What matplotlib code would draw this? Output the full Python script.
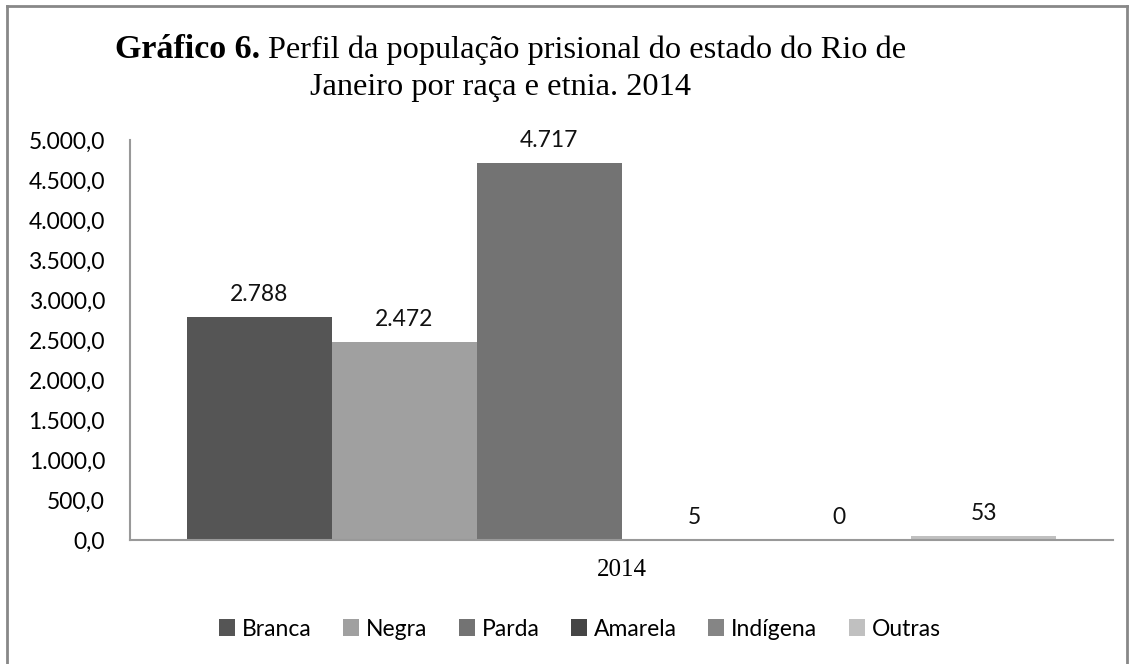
import matplotlib
matplotlib.use('Agg')
import matplotlib.pyplot as plt
from matplotlib.lines import Line2D
from matplotlib.ticker import FuncFormatter

categories = ['Branca', 'Negra', 'Parda', 'Amarela', 'Indígena', 'Outras']
values = [2788, 2472, 4717, 5, 0, 53]
colors = ['#555555', '#a0a0a0', '#737373', '#454545', '#858585', '#c0c0c0']
year_label = '2014'
y_ticks = [0, 500, 1000, 1500, 2000, 2500, 3000, 3500, 4000, 4500, 5000]

sans = 'Lato'
serif = 'Liberation Serif'
W, H = 1134, 664


def br_num(v, decimals=0):
    s = f'{v:,.{decimals}f}'
    return s.replace(',', 'X').replace('.', ',').replace('X', '.')


fig = plt.figure(figsize=(W / 100, H / 100), dpi=100)
ax = fig.add_axes([130 / W, 1 - 540 / H, (1113 - 130) / W, (540 - 140) / H])

w = 0.1475
for i, (cat, v, c) in enumerate(zip(categories, values, colors)):
    x = (i - 2.5) * w
    ax.bar(x, v, width=w, color=c, label=cat, zorder=2)
    ax.annotate(br_num(v), (x, v), xytext=(0, 11.5), textcoords='offset points',
                ha='center', va='baseline', fontsize=16.5, family=sans, color='#111111')

ax.set_xlim(-0.5, 0.5)
ax.set_ylim(0, 5000)
ax.set_yticks(y_ticks)
ax.yaxis.set_major_formatter(FuncFormatter(lambda v, p: br_num(v, 1)))
ax.set_xticks([0])
ax.set_xticklabels([year_label], family=serif, fontsize=18)
ax.tick_params(axis='x', length=0, pad=14)
ax.tick_params(axis='y', length=0, labelsize=16.5, pad=18)
for lab in ax.get_yticklabels():
    lab.set_family(sans)
for s in ['top', 'right']:
    ax.spines[s].set_visible(False)
for s in ['left', 'bottom']:
    ax.spines[s].set_color('#999999')
    ax.spines[s].set_linewidth(1.5)

leg = fig.legend(loc='center', bbox_to_anchor=(580 / W, 1 - 629 / H), ncol=6,
                 frameon=False, prop={'family': sans, 'size': 16.5},
                 handlelength=0.7, handleheight=0.7, handletextpad=0.3, columnspacing=1.37)

# title: bold part + regular part
t1 = fig.text(115 / W, 1 - 58 / H, 'Gráfico 6.', family=serif, weight='bold', fontsize=24.5,
              va='baseline')
fig.canvas.draw()
bb = t1.get_window_extent()
fig.text((bb.x1 + 8) / W, 1 - 58 / H, 'Perfil da população prisional do estado do Rio de',
         family=serif, fontsize=23.3, va='baseline')
fig.text(500 / W, 1 - 95 / H, 'Janeiro por raça e etnia. 2014', family=serif, fontsize=23.3,
         ha='center', va='baseline')

# outer frame
fc = '#888888'
fig.add_artist(Line2D([7 / W, 7 / W], [0, 1 - 6 / H], color=fc, lw=2, transform=fig.transFigure))
fig.add_artist(Line2D([7 / W, 1127 / W], [1 - 6 / H, 1 - 6 / H], color=fc, lw=2, transform=fig.transFigure))
fig.add_artist(Line2D([1127 / W, 1127 / W], [0, 1 - 6 / H], color=fc, lw=2, transform=fig.transFigure))

fig.savefig('out.png', dpi=100)
